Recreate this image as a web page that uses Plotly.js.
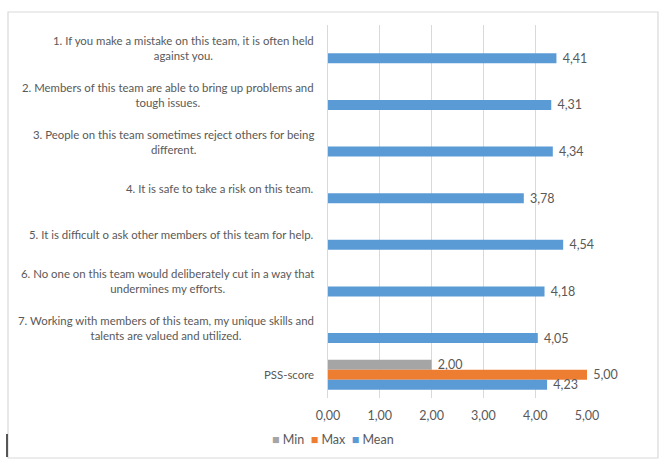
<!DOCTYPE html>
<html>
<head>
<meta charset="utf-8">
<script src="https://cdn.plot.ly/plotly-3.0.1.min.js"></script>
<style>html,body{margin:0;padding:0;background:#fff;}#chart{width:667px;height:466px;}</style>
</head>
<body>
<div id="chart"></div>
<script>
const categories = [
  "1. If you make a mistake on this team, it is often held<br>against you.",
  "2. Members of this team are able to bring up problems and<br>tough issues.",
  "3. People on this team sometimes reject others for being<br>different.",
  "4. It is safe to take a risk on this team.",
  "5. It is difficult o ask other members of this team for help.",
  "6. No one on this team would deliberately cut in a way that<br>undermines my efforts.",
  "7. Working with members of this team, my unique skills and<br>talents are valued and utilized.",
  "PSS-score"
];
const minValues  = [null, null, null, null, null, null, null, 2.00];
const maxValues  = [null, null, null, null, null, null, null, 5.00];
const meanValues = [4.41, 4.31, 4.34, 3.78, 4.54, 4.18, 4.05, 4.23];
const xTickValues = [0, 1, 2, 3, 4, 5];
const seriesNames = ["Min", "Max", "Mean"];
const seriesColors = ["#A5A5A5", "#ED7D31", "#5B9BD5"];

const FONT = "Lato, sans-serif";
const FS = 12.5;
const FS_CAT = 11.4;
const GRAY = "#595959";
const catIds = categories.map((c, i) => "c" + i);

function mk(name, vals, color) {
  return {
    type: "bar", orientation: "h", name: name,
    x: vals, y: catIds,
    marker: {color: color},
    texttemplate: "\u00a0%{x:.2f}", textposition: "outside",
    textfont: {family: FONT, size: FS, color: GRAY},
    cliponaxis: false, constraintext: "none",
    hoverinfo: "skip"
  };
}

const data = [
  mk(seriesNames[0], minValues, seriesColors[0]),
  mk(seriesNames[1], maxValues, seriesColors[1]),
  mk(seriesNames[2], meanValues, seriesColors[2])
];

const annotations = categories.map((c, i) => ({
  xref: "paper", yref: "y", x: -0.046, y: catIds[i],
  xanchor: "right", yanchor: "middle", align: "center",
  text: c, showarrow: false,
  font: {family: FONT, size: FS_CAT, color: GRAY}
}));

// legend drawn as a text line
const legendText = seriesNames.map((n, i) =>
  '<span style="color:' + seriesColors[i] + '">■</span> ' + n).join('  ');
annotations.push({
  xref: "paper", yref: "paper", x: 0.019, y: -0.11, xanchor: "center", yanchor: "middle",
  text: legendText, showarrow: false,
  font: {family: FONT, size: FS, color: GRAY}
});

const layout = {
  width: 667, height: 466,
  margin: {l: 328, r: 80, t: 25, b: 68},
  paper_bgcolor: "#fff", plot_bgcolor: "#fff",
  separators: ", ",
  barmode: "group", bargap: 0.356, bargroupgap: 0,
  showlegend: false,
  xaxis: {range: [0, 5], tickvals: xTickValues, tickformat: ".2f",
          showgrid: true, gridcolor: "#D9D9D9", gridwidth: 1,
          zeroline: false, showline: false, ticks: "",
          tickfont: {family: FONT, size: FS, color: GRAY}, ticklabelstandoff: 8, fixedrange: true},
  yaxis: {autorange: "reversed", type: "category", showticklabels: false,
          showgrid: false, zeroline: false, showline: true, linecolor: "#D9D9D9", ticks: "", fixedrange: true},
  annotations: annotations,
  shapes: [
    {type: "rect", xref: "paper", yref: "paper", x0: -1.2355, x1: 1.274, y0: -0.1609, y1: 1.0349,
     line: {color: "#D9D9D9", width: 1.2}},
    {type: "line", xref: "paper", yref: "paper", x0: -1.2394, x1: -1.2394, y0: -0.0965, y1: -0.158,
     line: {color: "#222", width: 1.5}}
  ]
};

Plotly.newPlot("chart", data, layout, {displayModeBar: false, staticPlot: true});
</script>
</body>
</html>
